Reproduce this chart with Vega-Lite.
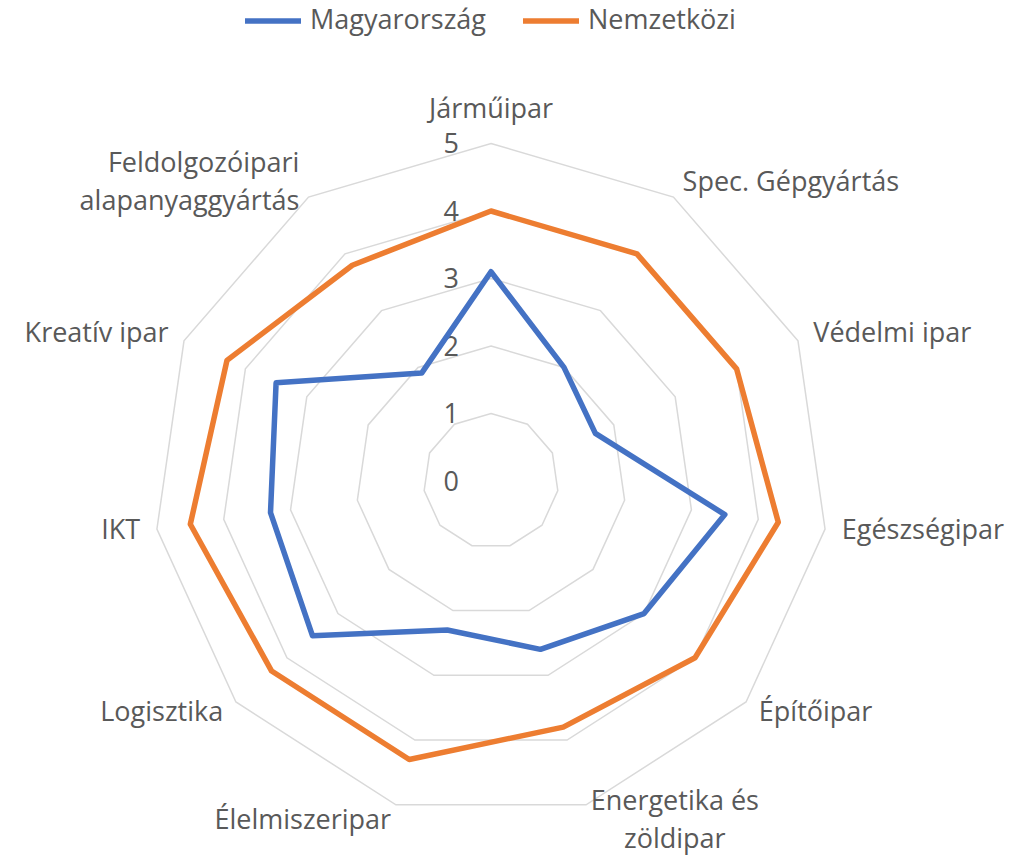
{
  "$schema": "https://vega.github.io/schema/vega-lite/v6.json",
  "width": 1033,
  "height": 856,
  "autosize": "none",
  "padding": 0,
  "background": "white",
  "config": {"view": {"stroke": null}, "font": "Open Sans"},
  "datasets": {
    "kategoriak": [
      {"sorszam": 0, "kategoria": "Járműipar", "felirat": "Járműipar", "szintek": [1, 2, 3, 4, 5]},
      {"sorszam": 1, "kategoria": "Spec. Gépgyártás", "felirat": "Spec. Gépgyártás", "szintek": [1, 2, 3, 4, 5]},
      {"sorszam": 2, "kategoria": "Védelmi ipar", "felirat": "Védelmi ipar", "szintek": [1, 2, 3, 4, 5]},
      {"sorszam": 3, "kategoria": "Egészségipar", "felirat": "Egészségipar", "szintek": [1, 2, 3, 4, 5]},
      {"sorszam": 4, "kategoria": "Építőipar", "felirat": "Építőipar", "szintek": [1, 2, 3, 4, 5]},
      {"sorszam": 5, "kategoria": "Energetika és zöldipar", "felirat": "Energetika és\nzöldipar", "szintek": [1, 2, 3, 4, 5]},
      {"sorszam": 6, "kategoria": "Élelmiszeripar", "felirat": "Élelmiszeripar", "szintek": [1, 2, 3, 4, 5]},
      {"sorszam": 7, "kategoria": "Logisztika", "felirat": "Logisztika", "szintek": [1, 2, 3, 4, 5]},
      {"sorszam": 8, "kategoria": "IKT", "felirat": "IKT", "szintek": [1, 2, 3, 4, 5]},
      {"sorszam": 9, "kategoria": "Kreatív ipar", "felirat": "Kreatív ipar", "szintek": [1, 2, 3, 4, 5]},
      {"sorszam": 10, "kategoria": "Feldolgozóipari alapanyaggyártás", "felirat": "Feldolgozóipari\nalapanyaggyártás", "szintek": [1, 2, 3, 4, 5]}
    ],
    "ertekek": [
      {"sorszam": 0, "kategoria": "Járműipar", "orszag": "Magyarország", "ertek": 3.1},
      {"sorszam": 1, "kategoria": "Spec. Gépgyártás", "orszag": "Magyarország", "ertek": 2.0},
      {"sorszam": 2, "kategoria": "Védelmi ipar", "orszag": "Magyarország", "ertek": 1.7},
      {"sorszam": 3, "kategoria": "Egészségipar", "orszag": "Magyarország", "ertek": 3.5},
      {"sorszam": 4, "kategoria": "Építőipar", "orszag": "Magyarország", "ertek": 3.0},
      {"sorszam": 5, "kategoria": "Energetika és zöldipar", "orszag": "Magyarország", "ertek": 2.6},
      {"sorszam": 6, "kategoria": "Élelmiszeripar", "orszag": "Magyarország", "ertek": 2.3},
      {"sorszam": 7, "kategoria": "Logisztika", "orszag": "Magyarország", "ertek": 3.5},
      {"sorszam": 8, "kategoria": "IKT", "orszag": "Magyarország", "ertek": 3.3},
      {"sorszam": 9, "kategoria": "Kreatív ipar", "orszag": "Magyarország", "ertek": 3.5},
      {"sorszam": 10, "kategoria": "Feldolgozóipari alapanyaggyártás", "orszag": "Magyarország", "ertek": 1.9},
      {"sorszam": 0, "kategoria": "Járműipar", "orszag": "Nemzetközi", "ertek": 4.0},
      {"sorszam": 1, "kategoria": "Spec. Gépgyártás", "orszag": "Nemzetközi", "ertek": 4.0},
      {"sorszam": 2, "kategoria": "Védelmi ipar", "orszag": "Nemzetközi", "ertek": 4.0},
      {"sorszam": 3, "kategoria": "Egészségipar", "orszag": "Nemzetközi", "ertek": 4.3},
      {"sorszam": 4, "kategoria": "Építőipar", "orszag": "Nemzetközi", "ertek": 4.0},
      {"sorszam": 5, "kategoria": "Energetika és zöldipar", "orszag": "Nemzetközi", "ertek": 3.8},
      {"sorszam": 6, "kategoria": "Élelmiszeripar", "orszag": "Nemzetközi", "ertek": 4.3},
      {"sorszam": 7, "kategoria": "Logisztika", "orszag": "Nemzetközi", "ertek": 4.3},
      {"sorszam": 8, "kategoria": "IKT", "orszag": "Nemzetközi", "ertek": 4.5},
      {"sorszam": 9, "kategoria": "Kreatív ipar", "orszag": "Nemzetközi", "ertek": 4.3},
      {"sorszam": 10, "kategoria": "Feldolgozóipari alapanyaggyártás", "orszag": "Nemzetközi", "ertek": 3.8}
    ],
    "skala": [
      {"szint": 0}, {"szint": 1}, {"szint": 2}, {"szint": 3}, {"szint": 4}, {"szint": 5}
    ]
  },
  "layer": [
    {
      "data": {"name": "kategoriak"},
      "transform": [
        {"flatten": ["szintek"], "as": ["szint"]},
        {"calculate": "datum.sorszam * 2 * PI / 11", "as": "szog"},
        {"calculate": "datum.szint * sin(datum.szog)", "as": "px"},
        {"calculate": "datum.szint * cos(datum.szog)", "as": "py"}
      ],
      "mark": {"type": "line", "interpolate": "linear-closed", "stroke": "#D9D9D9", "strokeWidth": 1.5},
      "encoding": {
        "x": {"field": "px", "type": "quantitative", "scale": {"domain": [-7.274, 8.03], "nice": false, "zero": false}, "axis": null},
        "y": {"field": "py", "type": "quantitative", "scale": {"domain": [-5.556, 7.126], "nice": false, "zero": false}, "axis": null},
        "detail": {"field": "szint", "type": "nominal"},
        "order": {"field": "sorszam", "type": "quantitative"}
      }
    },
    {
      "data": {"name": "skala"},
      "mark": {"type": "text", "align": "right", "baseline": "middle", "dx": -32, "dy": 2, "fontSize": 27, "color": "#595959"},
      "encoding": {
        "x": {"datum": 0, "type": "quantitative"},
        "y": {"field": "szint", "type": "quantitative"},
        "text": {"field": "szint", "type": "quantitative"}
      }
    },
    {
      "data": {"name": "ertekek"},
      "transform": [
        {"calculate": "datum.sorszam * 2 * PI / 11", "as": "szog"},
        {"calculate": "datum.ertek * sin(datum.szog)", "as": "px"},
        {"calculate": "datum.ertek * cos(datum.szog)", "as": "py"}
      ],
      "mark": {"type": "line", "interpolate": "linear-closed", "strokeWidth": 5.5, "strokeJoin": "round"},
      "encoding": {
        "x": {"field": "px", "type": "quantitative"},
        "y": {"field": "py", "type": "quantitative"},
        "color": {
          "field": "orszag", "type": "nominal",
          "scale": {"domain": ["Magyarország", "Nemzetközi"], "range": ["#4472C4", "#ED7D31"]},
          "legend": {
            "orient": "none", "legendX": 242, "legendY": -10, "direction": "horizontal", "title": null,
            "symbolType": "stroke", "symbolSize": 3136, "symbolStrokeWidth": 5.5,
            "labelFontSize": 27, "labelColor": "#595959", "labelFont": "Open Sans", "labelLimit": 400,
            "labelOffset": 6, "columnPadding": 26
          }
        },
        "order": {"field": "sorszam", "type": "quantitative"}
      }
    },
    {
      "data": {"name": "kategoriak"},
      "transform": [
        {"filter": "datum.sorszam == 0"},
        {"calculate": "datum.sorszam * 2 * PI / 11", "as": "szog"},
        {"calculate": "5.25 * sin(datum.szog)", "as": "px"},
        {"calculate": "5.25 * cos(datum.szog)", "as": "py"}
      ],
      "mark": {"type": "text", "align": "center", "baseline": "bottom", "dy": -3, "fontSize": 27, "color": "#595959"},
      "encoding": {
        "x": {"field": "px", "type": "quantitative"},
        "y": {"field": "py", "type": "quantitative"},
        "text": {"field": "felirat", "type": "nominal"}
      }
    },
    {
      "data": {"name": "kategoriak"},
      "transform": [
        {"filter": "datum.sorszam >= 1 && datum.sorszam <= 4"},
        {"calculate": "datum.sorszam * 2 * PI / 11", "as": "szog"},
        {"calculate": "5.25 * sin(datum.szog)", "as": "px"},
        {"calculate": "5.25 * cos(datum.szog)", "as": "py"}
      ],
      "mark": {"type": "text", "align": "left", "baseline": "middle", "fontSize": 27, "color": "#595959"},
      "encoding": {
        "x": {"field": "px", "type": "quantitative"},
        "y": {"field": "py", "type": "quantitative"},
        "text": {"field": "felirat", "type": "nominal"}
      }
    },
    {
      "data": {"name": "kategoriak"},
      "transform": [
        {"filter": "datum.sorszam == 5"},
        {"calculate": "datum.sorszam * 2 * PI / 11", "as": "szog"},
        {"calculate": "5.25 * sin(datum.szog)", "as": "px"},
        {"calculate": "5.25 * cos(datum.szog)", "as": "py"}
      ],
      "mark": {"type": "text", "align": "center", "baseline": "middle", "dx": 84, "dy": -19, "fontSize": 27, "color": "#595959", "lineBreak": "\n", "lineHeight": 38},
      "encoding": {
        "x": {"field": "px", "type": "quantitative"},
        "y": {"field": "py", "type": "quantitative"},
        "text": {"field": "felirat", "type": "nominal"}
      }
    },
    {
      "data": {"name": "kategoriak"},
      "transform": [
        {"filter": "datum.sorszam >= 6 && datum.sorszam <= 9"},
        {"calculate": "datum.sorszam * 2 * PI / 11", "as": "szog"},
        {"calculate": "5.25 * sin(datum.szog)", "as": "px"},
        {"calculate": "5.25 * cos(datum.szog)", "as": "py"}
      ],
      "mark": {"type": "text", "align": "right", "baseline": "middle", "fontSize": 27, "color": "#595959"},
      "encoding": {
        "x": {"field": "px", "type": "quantitative"},
        "y": {"field": "py", "type": "quantitative"},
        "text": {"field": "felirat", "type": "nominal"}
      }
    },
    {
      "data": {"name": "kategoriak"},
      "transform": [
        {"filter": "datum.sorszam == 10"},
        {"calculate": "datum.sorszam * 2 * PI / 11", "as": "szog"},
        {"calculate": "5.25 * sin(datum.szog)", "as": "px"},
        {"calculate": "5.25 * cos(datum.szog)", "as": "py"}
      ],
      "mark": {"type": "text", "align": "right", "baseline": "middle", "dy": -19, "fontSize": 27, "color": "#595959", "lineBreak": "\n", "lineHeight": 38},
      "encoding": {
        "x": {"field": "px", "type": "quantitative"},
        "y": {"field": "py", "type": "quantitative"},
        "text": {"field": "felirat", "type": "nominal"}
      }
    }
  ]
}
